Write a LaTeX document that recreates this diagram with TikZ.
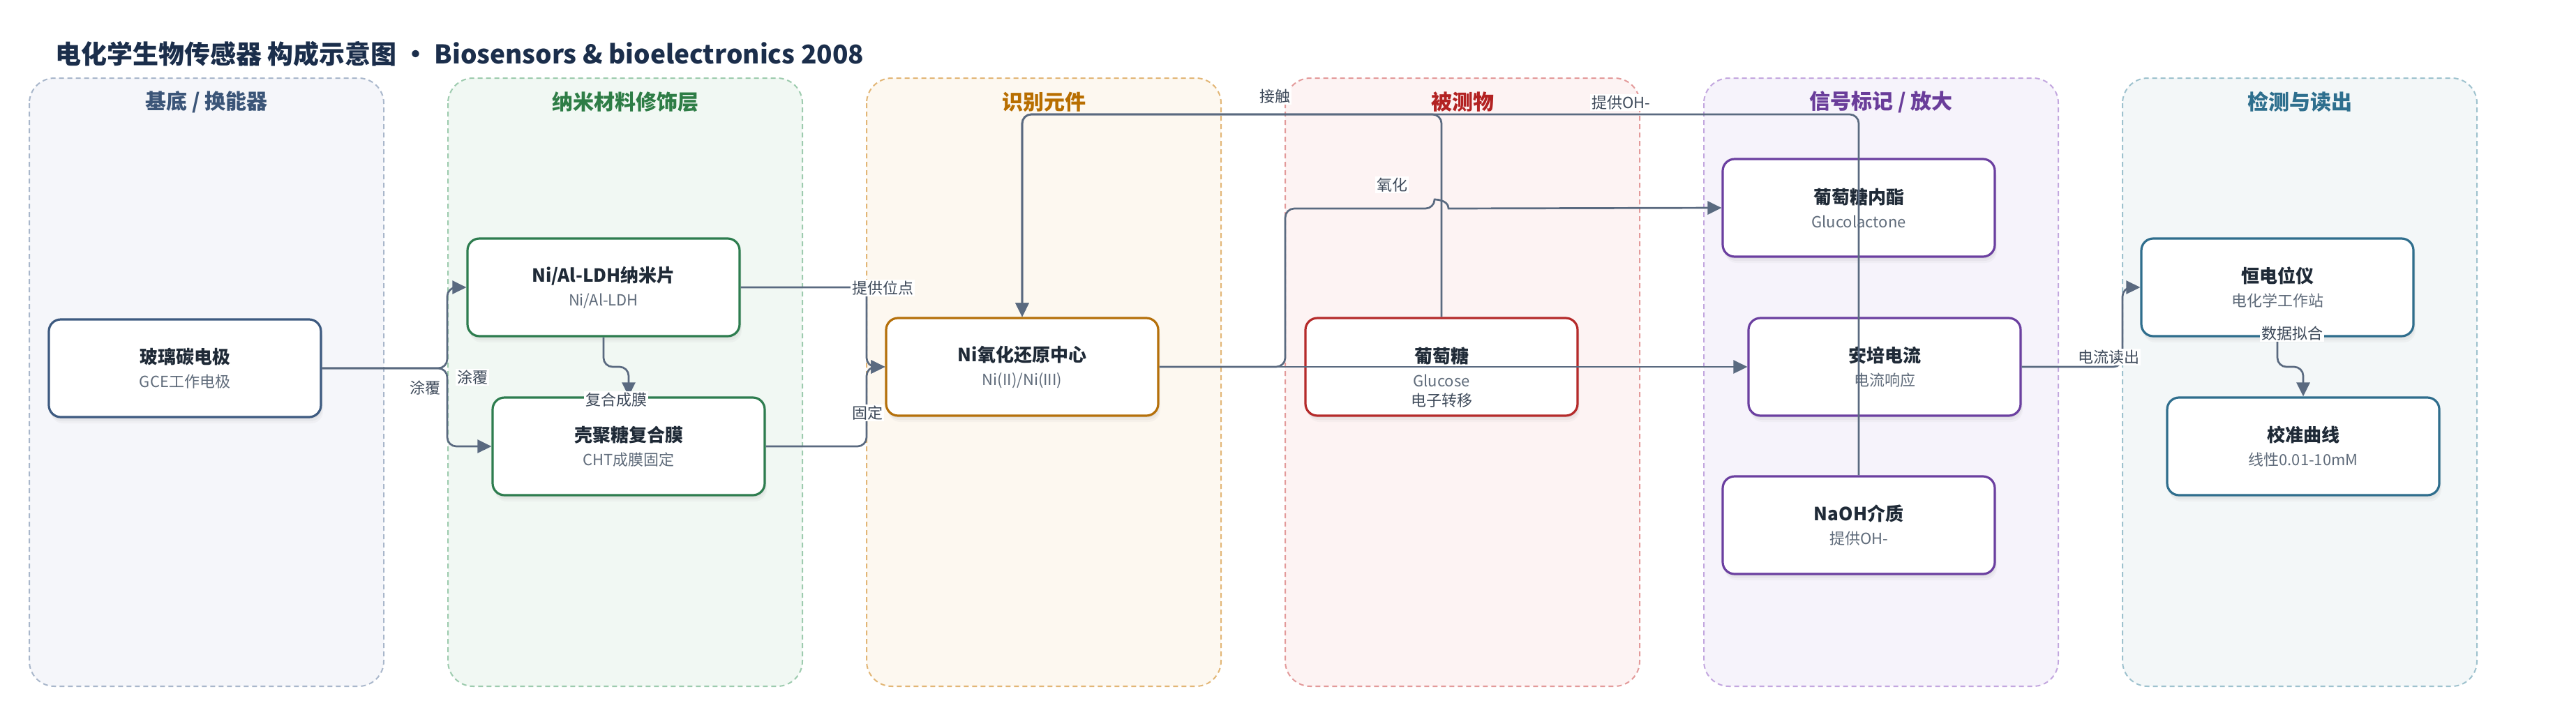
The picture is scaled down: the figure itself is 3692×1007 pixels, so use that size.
\documentclass[tikz,border=0pt]{standalone}
\usepackage{fontspec}
\setmainfont{Noto Sans CJK SC}
\usetikzlibrary{arrows.meta,shadows}
\pgfdeclarelayer{bg}
\pgfsetlayers{bg,main}
\definecolor{edgec}{HTML}{5A6A80}
\definecolor{lblc}{HTML}{3E4A5A}
\definecolor{ink}{HTML}{1F2A37}
\definecolor{subc}{HTML}{5F6B7A}
\definecolor{titleink}{HTML}{1B2E4B}
\definecolor{laF}{HTML}{F5F6FA}\definecolor{laD}{HTML}{A9B7CB}\definecolor{laT}{HTML}{3B5578}\definecolor{laN}{HTML}{3D5A80}
\definecolor{lbF}{HTML}{F1F8F3}\definecolor{lbD}{HTML}{9DCBAE}\definecolor{lbT}{HTML}{2E7D46}\definecolor{lbN}{HTML}{2E7D4F}
\definecolor{lcF}{HTML}{FDF8F0}\definecolor{lcD}{HTML}{E2B676}\definecolor{lcT}{HTML}{B86E00}\definecolor{lcN}{HTML}{B5700A}
\definecolor{ldF}{HTML}{FDF3F3}\definecolor{ldD}{HTML}{E39A9A}\definecolor{ldT}{HTML}{B32222}\definecolor{ldN}{HTML}{B52A2A}
\definecolor{leF}{HTML}{F6F3FB}\definecolor{leD}{HTML}{C3A7DF}\definecolor{leT}{HTML}{6A3D9A}\definecolor{leN}{HTML}{6B3FA0}
\definecolor{lfF}{HTML}{F3F7F8}\definecolor{lfD}{HTML}{9EC2CE}\definecolor{lfT}{HTML}{2E6F8E}\definecolor{lfN}{HTML}{2F6E8D}
\newcommand{\boxtext}[2]{{\fontsize{13pt}{17pt}\selectfont\bfseries\color{ink}#1}\\#2}

\begin{document}
\begin{tikzpicture}[x=0.5pt,y=-0.5pt,
        lane/.style={rounded corners=18pt, dash pattern=on 3.5pt off 2.5pt, line width=1pt},
        lanetitle/.style={font=\fontsize{15pt}{18pt}\selectfont\bfseries},
        box/.style={rounded corners=8.5pt, line width=1.6pt, fill=white, minimum width=195pt,
                minimum height=70pt, align=center, text=subc, font=\fontsize{11pt}{17pt}\selectfont,
                drop shadow={opacity=0.07, shadow xshift=0.5pt, shadow yshift=-1.5pt},
                drop shadow={opacity=0.07, shadow xshift=1pt, shadow yshift=-3pt},
                drop shadow={opacity=0.05, shadow xshift=1.5pt, shadow yshift=-4.5pt}},
        flow/.style={draw=edgec, line width=1.35pt, rounded corners=6.5pt, -{Triangle[length=10pt,width=9.5pt]}},
        lbl/.style={fill=white, text=lblc, inner sep=1pt, font=\fontsize{11pt}{13pt}\selectfont}]
        \useasboundingbox (0,0) rectangle (3692,1007);
        \node (ttl) [anchor=west, text=titleink, font=\fontsize{18.5pt}{22pt}\selectfont\bfseries] at (72,77)
                {电化学生物传感器 构成示意图 • Biosensors \& bioelectronics 2008};
        \begin{pgfonlayer}{bg}
                \foreach \i/\lc/\lt in {0/la/{基底 / 换能器}, 1/lb/纳米材料修饰层, 2/lc/识别元件,
                                3/ld/被测物, 4/le/{信号标记 / 放大}, 5/lf/检测与读出} {
                        \draw[lane, draw=\lc D, fill=\lc F] (42+600*\i,112) rectangle (550+600*\i,984);
                        \node (t\i) [lanetitle, text=\lc T] at (296+600*\i,146) {\lt};
                }
        \end{pgfonlayer}
        \node (gce) [box, draw=laN] at (265,528) {\boxtext{玻璃碳电极}{GCE工作电极}};
        \node (ldh) [box, draw=lbN] at (865,412) {\boxtext{Ni/Al-LDH纳米片}{Ni/Al-LDH}};
        \node (cht) [box, draw=lbN] at (901,640) {\boxtext{壳聚糖复合膜}{CHT成膜固定}};
        \node (ni) [box, draw=lcN] at (1465,526) {\boxtext{Ni氧化还原中心}{Ni(II)/Ni(III)}};
        \node (glu) [box, draw=ldN] at (2066,526) {\boxtext{葡萄糖}{Glucose}};
        \node (lac) [box, draw=leN] at (2664,298) {\boxtext{葡萄糖内酯}{Glucolactone}};
        \node (amp) [box, draw=leN] at (2701,526) {\boxtext{安培电流}{电流响应}};
        \node (naoh) [box, draw=leN] at (2664,753) {\boxtext{NaOH介质}{提供OH-}};
        \node (pot) [box, draw=lfN] at (3264,412) {\boxtext{恒电位仪}{电化学工作站}};
        \node (cal) [box, draw=lfN] at (3301,640) {\boxtext{校准曲线}{线性0.01-10mM}};
        \coordinate (busT) at (0,164);
        \draw[flow] (gce.east) -- (641,528) |- (ldh.west);
        \draw[flow] (gce.east) -- (641,528) |- (cht.west);
        \draw[flow] (ldh.south) -- (865,526) -| (cht.north);
        \draw[flow] (ldh.east) -| (1242,526) -- (ni.west);
        \draw[flow] (cht.east) -| (1242,526) -- (ni.west);
        \draw[flow] (glu.north) |- (ni.north |- busT) -- (ni.north);
        \draw[flow] (naoh.north) |- (ni.north |- busT) -- (ni.north);
        \draw[flow] (ni.east) -- (1842,526) |- (2056,299) {[sharp corners] .. controls (2056,286) and (2076,286) .. (2076,299) -- (lac.west)};
        \draw[flow] (ni.east) -- (amp.west);
        \draw[flow] (amp.east) -| (3042,412) -- (pot.west);
        \draw[flow] (pot.south) -- (3264,526) -| (cal.north);
        \node (e1) [lbl] at (609,556) {涂覆};
        \node (e2) [lbl] at (677,541) {涂覆};
        \node (e3) [lbl] at (883,573) {复合成膜};
        \node (e4) [lbl] at (1265,413) {提供位点};
        \node (e5) [lbl] at (1243,592) {固定};
        \node (e6) [lbl] at (1827,138) {接触};
        \node (e7) [lbl] at (2323,147) {提供OH-};
        \node (e8) [lbl] at (1995,265) {氧化};
        \node (e9) [lbl] at (2066,574) {电子转移};
        \node (e10) [lbl] at (3022,512) {电流读出};
        \node (e11) [lbl] at (3285,478) {数据拟合};
\end{tikzpicture}
\end{document}
